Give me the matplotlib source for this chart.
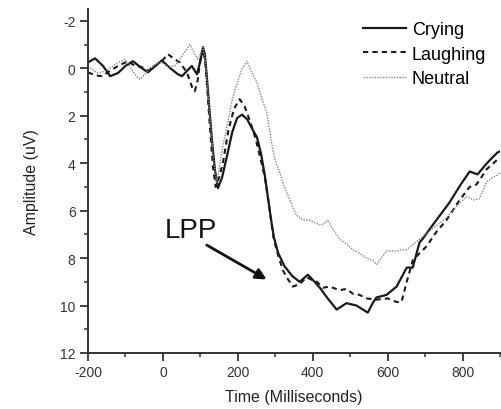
import matplotlib
matplotlib.use("Agg")
import matplotlib.pyplot as plt
from matplotlib.ticker import MultipleLocator

plt.rcParams["font.family"] = ["Liberation Sans", "DejaVu Sans"]
plt.rcParams["axes.unicode_minus"] = False

# ── ERP waveforms (ms, uV) ───────────────────────────────────────────────────
crying_t = [-200, -181, -160, -141, -120, -100, -80, -60, -40, -20, -3, 20, 40, 51,
            65, 77, 91, 100, 107, 112, 118, 125, 132, 139, 147, 158, 171, 185, 198,
            211, 225, 240, 251, 262, 272, 280, 288, 296, 308, 325, 345, 365, 387,
            405, 419, 440, 464, 490, 517, 547, 560, 570, 597, 624, 651, 667, 685,
            693, 730, 765, 795, 819, 840, 865, 893, 900]
crying_v = [-0.25, -0.42, -0.1, 0.33, 0.2, -0.1, -0.3, -0.05, 0.17, -0.1, -0.33, 0.0,
            0.25, 0.33, 0.1, -0.1, 0.25, -0.3, -0.9, -0.6, 0.5, 1.9, 3.2, 4.3, 5.05,
            4.6, 3.7, 2.7, 2.1, 1.95, 2.15, 2.6, 2.9, 3.6, 4.5, 5.4, 6.3, 7.1, 7.8,
            8.35, 8.75, 9.0, 8.7, 9.0, 9.25, 9.7, 10.17, 9.9, 10.0, 10.3, 9.9, 9.66,
            9.55, 9.2, 8.4, 8.4, 7.35, 7.2, 6.4, 5.66, 4.9, 4.35, 4.47, 4.0, 3.55, 3.5]

laughing_t = [-200, -180, -163, -140, -120, -93, -75, -56, -40, -21, 0, 13, 30, 45,
              64, 78, 85, 93, 100, 107, 113, 120, 127, 134, 141, 150, 160, 175, 190,
              205, 218, 232, 248, 262, 272, 280, 288, 296, 308, 320, 330, 347, 365,
              384, 400, 411, 427, 445, 472, 490, 507, 525, 544, 571, 600, 624, 637,
              651, 667, 685, 704, 730, 757, 790, 819, 837, 850, 864, 893, 900]
laughing_v = [0.17, 0.3, 0.33, 0.1, -0.1, -0.3, -0.1, -0.05, 0.1, -0.1, -0.35, -0.6,
              -0.4, -0.25, 0.17, 0.8, 0.97, 0.5, -0.4, -0.8, -0.3, 1.2, 2.8, 4.2, 5.0,
              4.6, 4.0, 2.6, 1.7, 1.3, 1.6, 2.2, 3.0, 3.9, 4.6, 5.4, 6.3, 7.2, 7.9,
              8.5, 8.8, 9.2, 9.1, 8.8, 8.95, 9.0, 9.25, 9.2, 9.35, 9.3, 9.5, 9.55, 9.7,
              9.75, 9.7, 9.85, 9.85, 9.0, 8.1, 7.8, 7.5, 6.9, 6.4, 5.6, 5.0, 4.9, 4.6,
              4.26, 3.85, 3.8]

neutral_t = [-200, -185, -173, -150, -125, -101, -85, -70, -61, -45, -29, -3, 15, 32,
             50, 72, 85, 93, 100, 107, 113, 120, 128, 136, 144, 160, 187, 210, 224,
             238, 251, 265, 277, 293, 300, 312, 322, 340, 357, 375, 392, 405, 419,
             430, 440, 455, 472, 490, 507, 525, 544, 560, 571, 583, 597, 620, 651,
             670, 693, 725, 757, 785, 811, 830, 845, 864, 880, 893, 900]
neutral_v = [-0.1, 0.1, 0.2, 0.1, -0.2, -0.38, 0.0, 0.35, 0.46, 0.2, -0.1, -0.25,
             -0.05, -0.1, -0.5, -1.0, -0.6, -0.38, -0.6, -0.9, -0.4, 1.0, 2.6, 4.0,
             4.8, 3.3, 1.2, 0.05, -0.3, 0.2, 0.6, 1.3, 1.86, 3.4, 3.9, 4.4, 4.9, 5.6,
             6.2, 6.4, 6.4, 6.5, 6.6, 6.55, 6.4, 6.8, 7.2, 7.4, 7.64, 7.8, 8.0, 8.1,
             8.27, 8.0, 7.7, 7.7, 7.64, 7.4, 7.1, 6.7, 6.3, 5.8, 5.4, 5.55, 5.5, 4.8,
             4.6, 4.5, 4.4]

series_names = ["Crying", "Laughing", "Neutral"]

# LPP arrow (tail -> head) and label position
lpp_label_xy = (5, 7.1)
lpp_tail = (117, 7.45)
lpp_head = (277, 8.9)

# ── Plot ─────────────────────────────────────────────────────────────────────
fig = plt.figure(figsize=(5.02, 4.10), dpi=100)
ax = fig.add_axes([0.1753, 0.1366, 0.8207, 0.839])

ax.plot(crying_t, crying_v, color="#1a1a1a", lw=1.6, ls="-", label=series_names[0])
ax.plot(laughing_t, laughing_v, color="#1a1a1a", lw=1.5, ls=(0, (2.5, 2)),
        label=series_names[1])
ax.plot(neutral_t, neutral_v, color="#858585", lw=1.0, ls=(0, (1, 1)),
        label=series_names[2])

ax.set_xlim(-200, 900)
ax.set_ylim(12, -2.5)  # ERP convention: negative up

ax.xaxis.set_major_locator(MultipleLocator(200))
ax.xaxis.set_minor_locator(MultipleLocator(100))
ax.yaxis.set_major_locator(MultipleLocator(2))
ax.yaxis.set_minor_locator(MultipleLocator(1))

for side in ("top", "right"):
    ax.spines[side].set_visible(False)
for side in ("left", "bottom"):
    ax.spines[side].set_color("#333333")
    ax.spines[side].set_linewidth(1.4)

ax.tick_params(which="major", direction="out", length=6, width=1.3,
               color="#333333", labelsize=10, labelcolor="#333333", pad=3)
ax.tick_params(which="minor", direction="out", length=3, width=1.1, color="#333333")

ax.set_xlabel("Time (Milliseconds)", fontsize=11.5, color="#222222", labelpad=7)
ax.set_ylabel("Amplitude (uV)", fontsize=11.5, color="#222222", labelpad=15)

ax.text(*lpp_label_xy, "LPP", fontsize=20, color="#111111", ha="left", va="baseline")
ax.annotate("", xy=lpp_head, xytext=lpp_tail,
            arrowprops=dict(arrowstyle="-|>", color="#111111", lw=2,
                            mutation_scale=16, shrinkA=0, shrinkB=0))

ax.legend(loc="upper left", bbox_to_anchor=(0.709, 0.964),
          bbox_transform=fig.transFigure, frameon=False, fontsize=13,
          handlelength=2.4, handletextpad=0.3, labelspacing=0.42, borderaxespad=0)

fig.savefig("out.png", dpi=100)
